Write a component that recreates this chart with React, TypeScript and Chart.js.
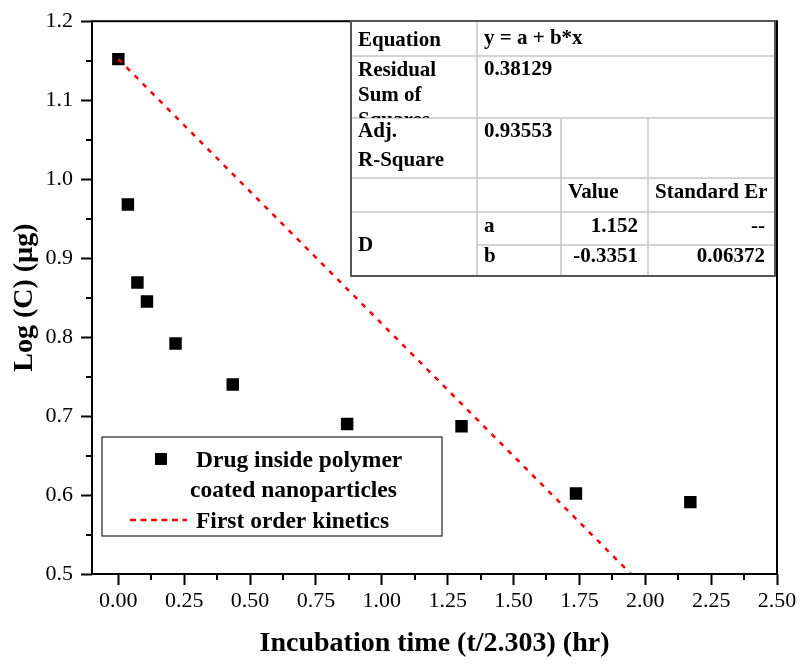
import React, { useEffect, useRef } from "react";
import { Chart, registerables } from "chart.js";

Chart.register(...registerables);

// Measured release data: incubation time (t/2.303, hr) vs log concentration (µg)
const incubationTime = [0, 0.0362, 0.0724, 0.1086, 0.2171, 0.4342, 0.8684, 1.3026, 1.7369, 2.1711];
const logConcentration = [1.152, 0.968, 0.869, 0.845, 0.792, 0.74, 0.69, 0.687, 0.602, 0.591];

// Linear fit y = a + b*x (first order kinetics)
const fitIntercept = 1.152;
const fitSlope = -0.3351;
const fitSlopeError = 0.06372;
const residualSumOfSquares = 0.38129;
const adjRSquare = 0.93553;

// Axis ticks
const xTickValues = [0, 0.25, 0.5, 0.75, 1, 1.25, 1.5, 1.75, 2, 2.25, 2.5];
const yTickValues = [0.5, 0.6, 0.7, 0.8, 0.9, 1.0, 1.1, 1.2];
const xMin = -0.1;
const xMax = 2.5;
const yMin = 0.5;
const yMax = 1.2;

const SERIF = "'Liberation Serif', 'Times New Roman', Times, serif";

// Fitted line runs from x = 0 until it reaches the bottom of the y range
const fitEndX = (yMin - fitIntercept) / fitSlope;
const fitLine = [
  { x: 0, y: fitIntercept },
  { x: fitEndX, y: fitIntercept + fitSlope * fitEndX },
];

function strokeLine(ctx: CanvasRenderingContext2D, x1: number, y1: number, x2: number, y2: number) {
  ctx.beginPath();
  ctx.moveTo(x1, y1);
  ctx.lineTo(x2, y2);
  ctx.stroke();
}

function clippedText(
  ctx: CanvasRenderingContext2D,
  lines: string[],
  x: number,
  baseline: number,
  lineGap: number,
  align: CanvasTextAlign,
  clip: [number, number, number, number]
) {
  ctx.save();
  ctx.beginPath();
  ctx.rect(clip[0], clip[1], clip[2] - clip[0], clip[3] - clip[1]);
  ctx.clip();
  ctx.textAlign = align;
  lines.forEach((s, i) => ctx.fillText(s, x, baseline + i * lineGap));
  ctx.restore();
}

function drawFitTable(ctx: CanvasRenderingContext2D) {
  const L = 351, T = 21, R = 775, B = 276;
  const c1 = 477, c2 = 561, c3 = 648;
  const r1 = 56, r2 = 118, r3 = 178, r4 = 212, r5 = 245;

  ctx.save();
  ctx.fillStyle = "#ffffff";
  ctx.fillRect(L, T, R - L, B - T);

  ctx.strokeStyle = "#c6c6c6";
  ctx.lineWidth = 1.5;
  strokeLine(ctx, L, r1, R, r1);
  strokeLine(ctx, L, r2, R, r2);
  strokeLine(ctx, L, r3, R, r3);
  strokeLine(ctx, L, r4, R, r4);
  strokeLine(ctx, c1, r5, R, r5);
  strokeLine(ctx, c1, T, c1, B);
  strokeLine(ctx, c2, r2, c2, B);
  strokeLine(ctx, c3, r2, c3, B);

  ctx.strokeStyle = "#555555";
  ctx.lineWidth = 2;
  ctx.strokeRect(L, T, R - L, B - T);

  ctx.fillStyle = "#000000";
  ctx.font = `bold 21px ${SERIF}`;
  ctx.textBaseline = "alphabetic";
  const pad = 7;

  clippedText(ctx, ["Equation"], L + pad, 46, 25, "left", [L, T, c1, r1]);
  clippedText(ctx, ["y = a + b*x"], c1 + pad, 44, 25, "left", [c1, T, R, r1]);
  clippedText(ctx, ["Residual", "Sum of", "Squares"], L + pad, 76, 25, "left", [L, r1, c1, r2]);
  clippedText(ctx, [residualSumOfSquares.toFixed(5)], c1 + pad, 75, 25, "left", [c1, r1, R, r2]);
  clippedText(ctx, ["Adj.", "R-Square"], L + pad, 137, 29, "left", [L, r2, c1, r3]);
  clippedText(ctx, [adjRSquare.toFixed(5)], c1 + pad, 137, 25, "left", [c1, r2, c2, r3]);
  clippedText(ctx, ["Value"], c2 + pad, 198, 25, "left", [c2, r3, c3, r4]);
  clippedText(ctx, ["Standard Error"], c3 + pad, 198, 25, "left", [c3, r3, R - 8, r4]);
  clippedText(ctx, ["D"], L + pad, 251, 25, "left", [L, r4, c1, B]);
  clippedText(ctx, ["a"], c1 + pad, 232, 25, "left", [c1, r4, c2, r5]);
  clippedText(ctx, [fitIntercept.toFixed(3)], c3 - 10, 232, 25, "right", [c2, r4, c3, r5]);
  clippedText(ctx, ["--"], R - 10, 232, 25, "right", [c3, r4, R, r5]);
  clippedText(ctx, ["b"], c1 + pad, 262, 25, "left", [c1, r5, c2, B]);
  clippedText(ctx, [fitSlope.toFixed(4)], c3 - 10, 262, 25, "right", [c2, r5, c3, B]);
  clippedText(ctx, [fitSlopeError.toFixed(5)], R - 10, 262, 25, "right", [c3, r5, R, B]);
  ctx.restore();
}

function drawLegendBox(ctx: CanvasRenderingContext2D) {
  const L = 102, T = 437, R = 442, B = 536;
  ctx.save();
  ctx.fillStyle = "#ffffff";
  ctx.fillRect(L, T, R - L, B - T);
  ctx.strokeStyle = "#333333";
  ctx.lineWidth = 1.3;
  ctx.strokeRect(L, T, R - L, B - T);

  // symbol for the measured data
  ctx.fillStyle = "#000000";
  ctx.fillRect(155, 453, 12, 12);

  // symbol for the fitted line
  ctx.strokeStyle = "#ff0000";
  ctx.lineWidth = 2.5;
  ctx.setLineDash([6, 4.5]);
  strokeLine(ctx, 130, 520, 187, 520);
  ctx.setLineDash([]);

  ctx.fillStyle = "#000000";
  ctx.font = `bold 23.5px ${SERIF}`;
  ctx.textAlign = "left";
  ctx.textBaseline = "alphabetic";
  ctx.fillText("Drug inside polymer", 196, 467);
  ctx.fillText("coated nanoparticles", 190, 497);
  ctx.fillText("First order kinetics", 196, 528);
  ctx.restore();
}

const decorPlugin = {
  id: "decor",
  afterDraw(chart: any) {
    const ctx: CanvasRenderingContext2D = chart.ctx;
    const { left, right, top, bottom } = chart.chartArea;
    const xs = chart.scales.x;
    const ys = chart.scales.y;
    ctx.save();
    ctx.strokeStyle = "#000000";
    ctx.lineWidth = 2;
    ctx.strokeRect(left, top, right - left, bottom - top);

    // minor ticks halfway between labelled ticks
    for (let i = 0; i < xTickValues.length - 1; i++) {
      const px = Math.round(xs.getPixelForValue((xTickValues[i] + xTickValues[i + 1]) / 2));
      strokeLine(ctx, px, bottom, px, bottom + 6);
    }
    for (let i = 0; i < yTickValues.length - 1; i++) {
      const py = Math.round(ys.getPixelForValue((yTickValues[i] + yTickValues[i + 1]) / 2));
      strokeLine(ctx, left, py, left - 6, py);
    }
    ctx.restore();

    drawFitTable(ctx);
    drawLegendBox(ctx);
  },
};

export default function App() {
  const canvasRef = useRef<HTMLCanvasElement | null>(null);

  useEffect(() => {
    document.body.style.margin = "0";
    const canvas = canvasRef.current;
    if (!canvas) return;

    const tickFont = { family: SERIF, size: 22 };
    const titleFont = { family: SERIF, size: 28, weight: "bold" as const, lineHeight: 1.2 };

    const chart = new Chart(canvas, {
      type: "scatter",
      data: {
        datasets: [
          {
            label: "First order kinetics",
            data: fitLine,
            showLine: true,
            borderColor: "#ff0000",
            borderWidth: 2.5,
            borderDash: [5, 6.5],
            pointRadius: 0,
            order: 0,
          },
          {
            label: "Drug inside polymer coated nanoparticles",
            data: incubationTime.map((x, i) => ({ x, y: logConcentration[i] })),
            pointStyle: "rect",
            pointRadius: 8.8,
            pointBackgroundColor: "#000000",
            pointBorderColor: "#000000",
            pointBorderWidth: 0,
            order: 1,
          },
        ],
      },
      options: {
        animation: false,
        responsive: false,
        devicePixelRatio: 1,
        layout: { padding: { top: 16, right: 23, bottom: 0, left: 0 } },
        plugins: {
          legend: { display: false },
          tooltip: { enabled: false },
        },
        scales: {
          x: {
            type: "linear",
            min: xMin,
            max: xMax,
            afterBuildTicks: (scale: any) => {
              scale.ticks = xTickValues.map((v) => ({ value: v }));
            },
            afterFit: (scale: any) => {
              scale.height = 90;
            },
            ticks: {
              font: tickFont,
              color: "#000000",
              padding: 3,
              autoSkip: false,
              maxRotation: 0,
              callback: (v: any) => Number(v).toFixed(2),
            },
            grid: {
              display: true,
              drawOnChartArea: false,
              drawTicks: true,
              tickLength: 11,
              tickWidth: 2,
              tickColor: "#000000",
            },
            border: { display: false },
            title: {
              display: true,
              text: "Incubation time (t/2.303) (hr)",
              font: titleFont,
              color: "#000000",
              padding: { top: 0, bottom: 3 },
            },
          },
          y: {
            type: "linear",
            min: yMin,
            max: yMax,
            afterBuildTicks: (scale: any) => {
              scale.ticks = yTickValues.map((v) => ({ value: v }));
            },
            afterFit: (scale: any) => {
              scale.width = 92;
            },
            ticks: {
              font: tickFont,
              color: "#000000",
              padding: 8,
              callback: (v: any) => Number(v).toFixed(1),
            },
            grid: {
              display: true,
              drawOnChartArea: false,
              drawTicks: true,
              tickLength: 11,
              tickWidth: 2,
              tickColor: "#000000",
            },
            border: { display: false },
            title: {
              display: true,
              text: "Log (C) (µg)",
              font: titleFont,
              color: "#000000",
              padding: { top: 8, bottom: 0 },
            },
          },
        },
      },
      plugins: [decorPlugin],
    });

    return () => chart.destroy();
  }, []);

  return (
    <div style={{ width: 800, height: 664, background: "#ffffff" }}>
      <canvas ref={canvasRef} width={800} height={664} style={{ display: "block" }} />
    </div>
  );
}
